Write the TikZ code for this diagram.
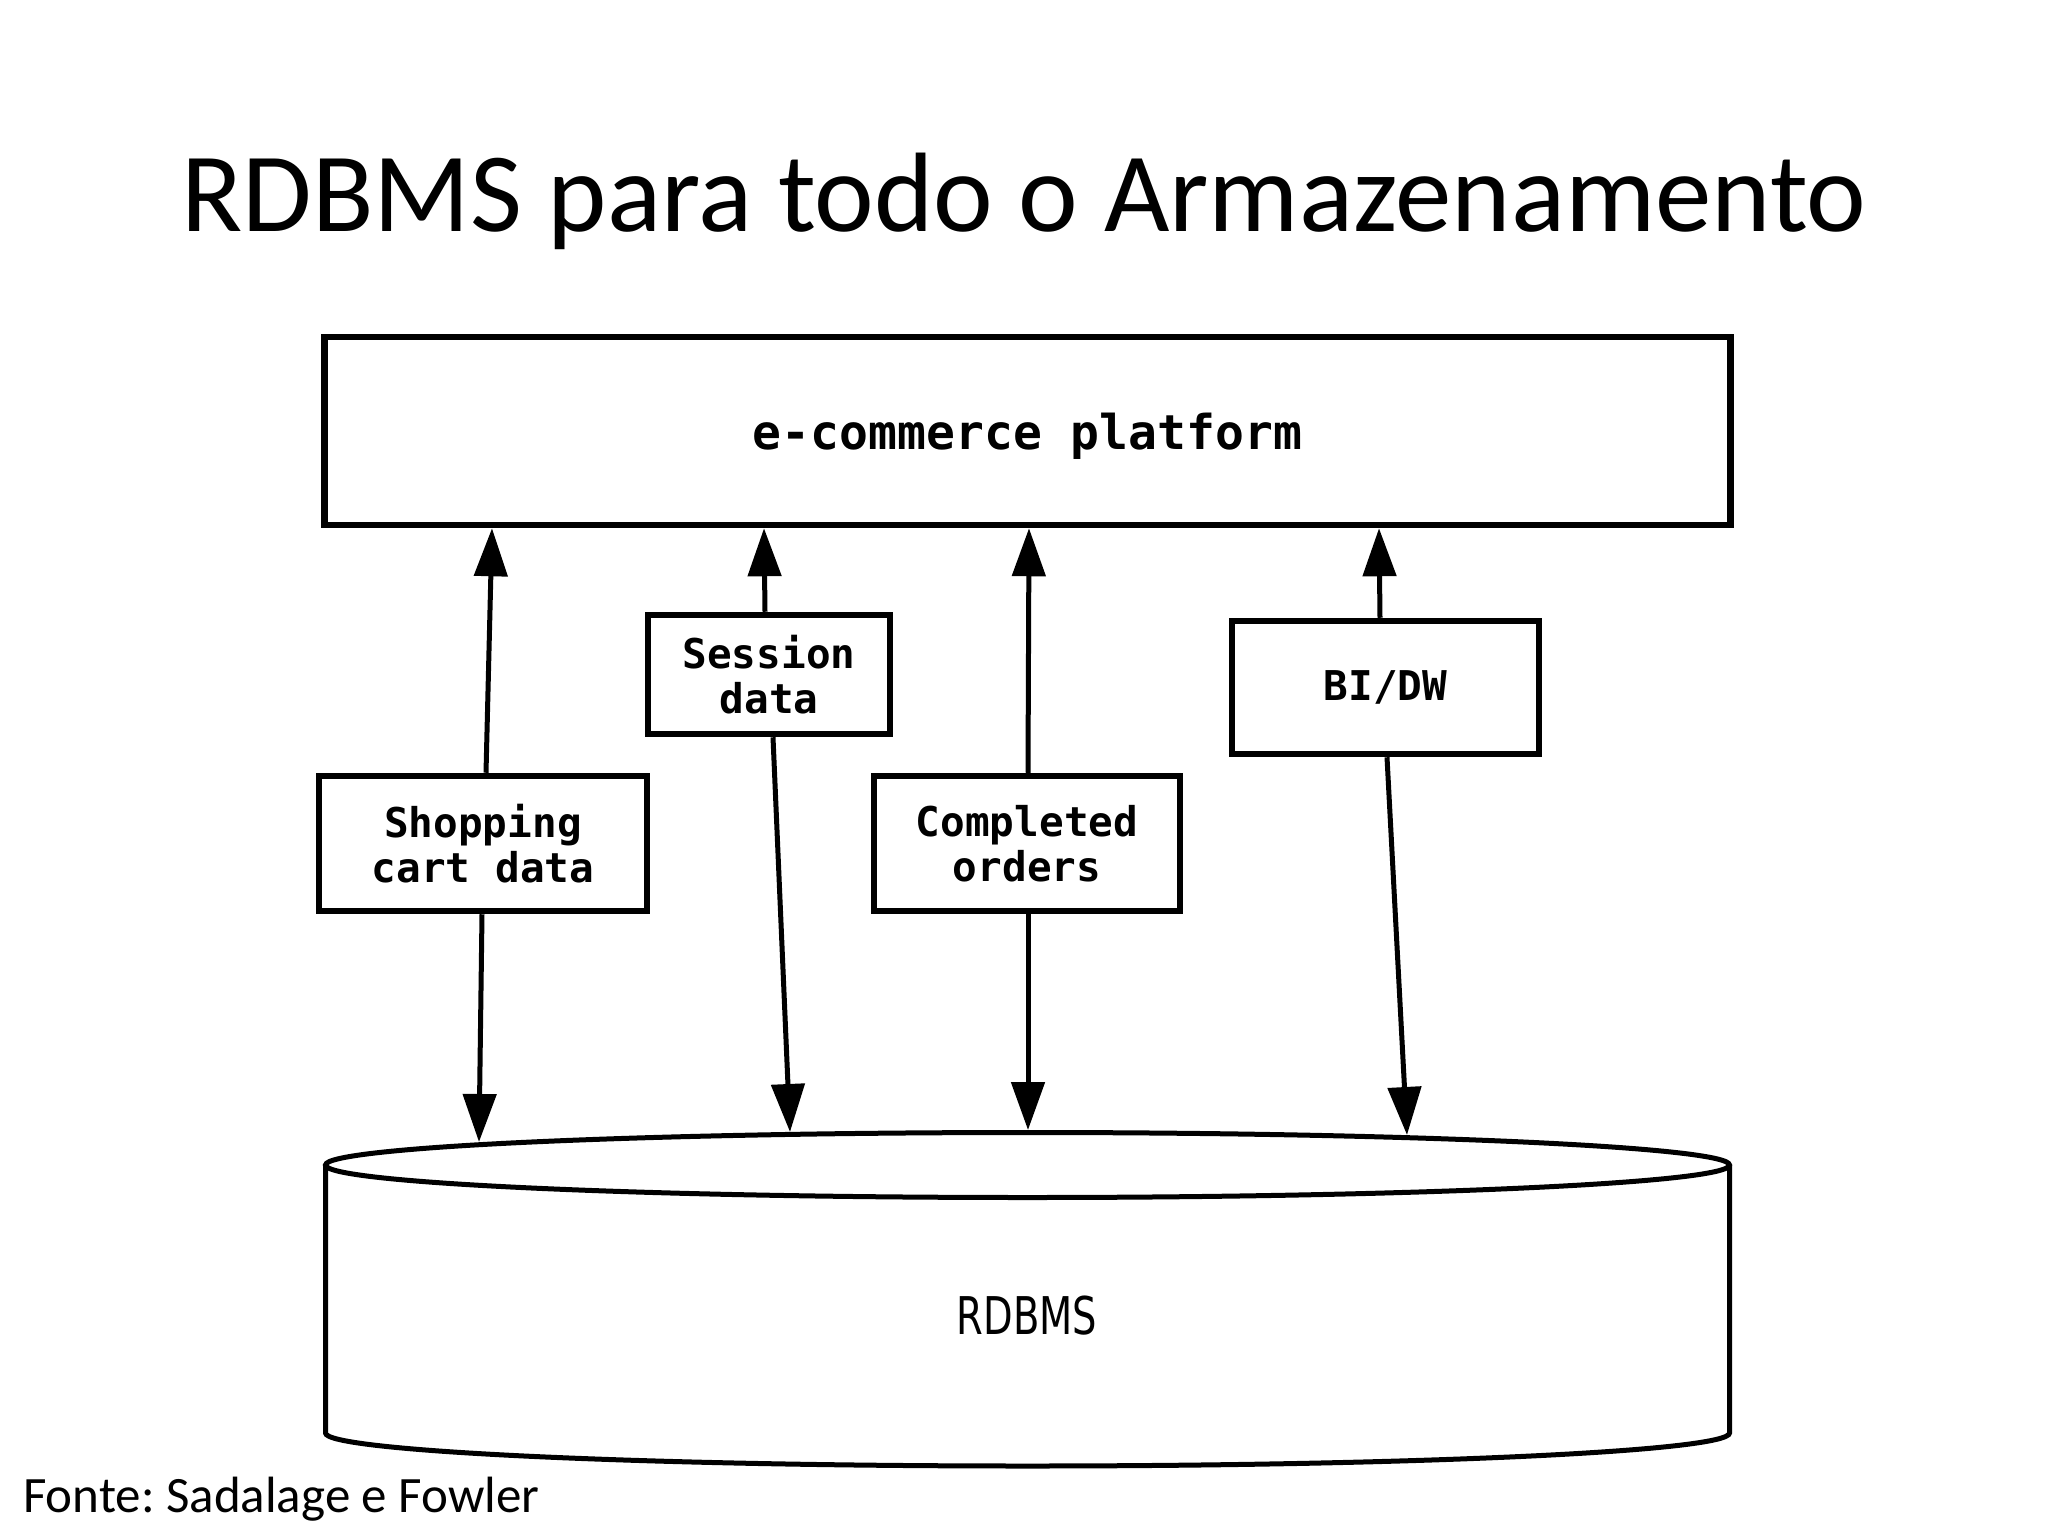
\documentclass[tikz,border=0pt]{standalone}
\usepackage{fontspec}
\usepackage{graphicx}
\setmainfont{Carlito}
\newfontfamily\codefont{DejaVu Sans Mono}
\newfontfamily\dbfont{DejaVu Sans}
\usetikzlibrary{arrows.meta}
\tikzset{
  boxstyle/.style={draw, line width=6.5pt, fill=white, inner sep=0pt, align=center,
    font=\codefont\bfseries\fontsize{41}{45}\selectfont},
  arr/.style={line width=5pt, -{Triangle[length=48pt,width=33pt]}},
  cyl/.style={line width=5pt, fill=white}
}
\frenchspacing
\begin{document}
\begin{tikzpicture}[x=1pt,y=1pt]
\useasboundingbox (0,0) rectangle (2048,-1536);
% title and source
\node[anchor=base, inner sep=0pt, font=\fontsize{113}{130}\selectfont] (title) at (1024,-231) {RDBMS para todo o Armazenamento};
\node[anchor=base west, inner sep=0pt, font=\fontsize{51}{60}\selectfont] (src) at (23,-1512) {Fonte: Sadalage e Fowler};
% cylinder
\draw[cyl] (325.5,-1165) -- (325.5,-1433) arc[start angle=180, end angle=360, x radius=702pt, y radius=33pt] -- (1729.5,-1165);
\draw[cyl] (1027.5,-1165) ellipse [x radius=702pt, y radius=32.5pt];
\node[font=\dbfont\fontsize{52}{60}\selectfont] (db) at (1027,-1316) {\scalebox{0.74}[1]{RDBMS}};
\coordinate (d1) at (479,-1142);
\coordinate (d2) at (790,-1132);
\coordinate (d3) at (1028,-1130);
\coordinate (d4) at (1407,-1135);
% boxes
\node[boxstyle, minimum width=1406pt, minimum height=188pt, font=\codefont\bfseries\fontsize{48}{52}\selectfont] (top) at (1027.5,-431) {\raisebox{-5pt}[\height][\depth]{e-commerce platform}};
\node[boxstyle, minimum width=242pt, minimum height=119pt] (sess) at (769,-674.5) {Session\\data};
\node[boxstyle, minimum width=328pt, minimum height=135pt] (shop) at (483,-843.5) {Shopping\\cart data};
\node[boxstyle, minimum width=306pt, minimum height=135pt] (comp) at (1027,-843.5) {Completed\\orders};
\node[boxstyle, minimum width=307pt, minimum height=133pt] (bidw) at (1385.5,-687.5) {BI/DW};
% connectors up
\draw[arr] ([xshift=3pt]shop.north) -- ([xshift=-535.5pt]top.south);
\draw[arr] ([xshift=-4pt]sess.north) -- ([xshift=-263.5pt]top.south);
\draw[arr] ([xshift=1pt]comp.north) -- ([xshift=1.5pt]top.south);
\draw[arr] ([xshift=-5.5pt]bidw.north) -- ([xshift=351.5pt]top.south);
% connectors down
\draw[arr] ([xshift=-1pt]shop.south) -- (d1);
\draw[arr] ([xshift=4pt]sess.south) -- (d2);
\draw[arr] ([xshift=1pt]comp.south) -- (d3);
\draw[arr] ([xshift=1.5pt]bidw.south) -- (d4);
\end{tikzpicture}
\end{document}
